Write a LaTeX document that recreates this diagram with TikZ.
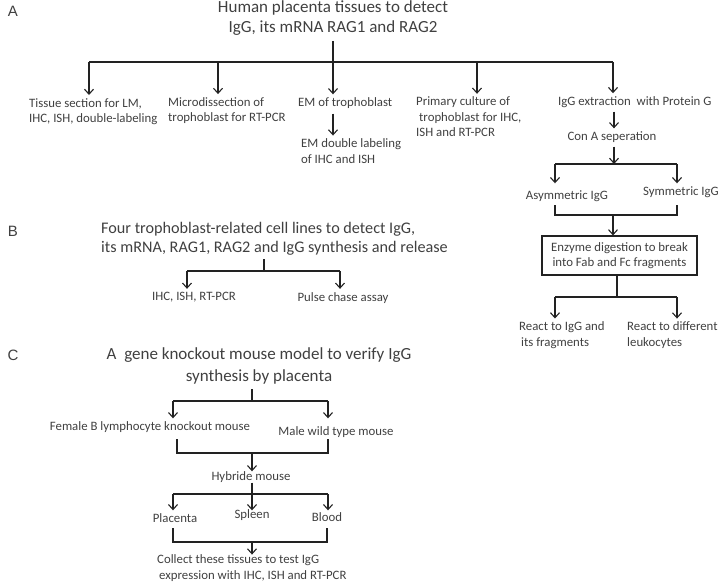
\documentclass[tikz,border=0pt]{standalone}
\usepackage{fontspec}
\setmainfont{Carlito}
\newfontfamily\labfont{Liberation Sans}
\usetikzlibrary{arrows.meta}
\definecolor{txtcol}{HTML}{404040}
\definecolor{lncol}{HTML}{222222}
\begin{document}
\begin{tikzpicture}[x=1pt,y=-1pt,
 ln/.style={draw=lncol, line width=1.1pt},
 arr/.style={ln, -{Straight Barb[length=5pt,width=9pt]}},
 arrt/.style={arr, shorten >=3pt},
 sm/.style={text=txtcol, inner sep=0pt, font=\fontsize{12.8}{15.5}\selectfont},
 lt/.style={sm, align=left, anchor=west},
 ttl/.style={text=txtcol, inner sep=0pt, font=\fontsize{17}{20.5}\selectfont, align=center},
 lab/.style={text=txtcol, inner sep=0pt, font=\labfont\fontsize{15}{18}\selectfont},
 box/.style={draw=lncol, line width=1.1pt, text=txtcol, font=\fontsize{12.8}{15.5}\selectfont, align=center, minimum width=155pt, minimum height=39pt, inner sep=2pt}
]
\useasboundingbox (0,0) rectangle (720,583);

% ---------------- A ----------------
\node[lab] (labA) at (13,11) {A};
\node[ttl] (tA) at (333,18) {Human placenta tissues to detect\\IgG, its mRNA RAG1 and RAG2};
\coordinate (hA1) at (89,62);
\coordinate (hA2) at (218,62);
\coordinate (hA3) at (333,62);
\coordinate (hA4) at (477,62);
\coordinate (hA5) at (613,62);

\node[lt] (a1) at (29,111.5) {Tissue section for LM,\\IHC, ISH, double-labeling};
\node[lt] (a2) at (168,110.5) {Microdissection of\\trophoblast for RT-PCR};
\node[lt] (a3) at (298,103) {EM of trophoblast};
\node[lt] (a3b) at (301,151) {EM double labeling\\of IHC and ISH};
\node[lt] (a4) at (416,117) {Primary culture of\\\hspace{3pt}trophoblast for IHC,\\ISH and RT-PCR};
\node[lt] (a5) at (558,102) {IgG extraction\ \ with Protein G};
\node[sm] (a6) at (612,137) {Con A seperation};

\draw[ln] (hA1) -- (hA5);
\draw[arrt, shorten <=5pt] (tA.south) -- (tA.south |- a3.north);
\draw[arrt] (hA1) -- (hA1 |- a1.north);
\draw[arrt] (hA2) -- (hA2 |- a2.north);
\draw[arrt] (hA4) -- (hA4 |- a4.north);
\draw[arrt] (hA5) -- (hA5 |- a5.north);
\draw[arrt, shorten <=5pt] (hA3 |- a3.south) -- (hA3 |- a3b.north);

\coordinate (cA) at (614,164);
\coordinate (cL) at (555,164);
\coordinate (cR) at (677,164);
\draw[arrt, shorten <=4pt] (a5.south -| cA) -- (a6.north -| cA);
\draw[arr, shorten <=4pt] (a6.south -| cA) -- (cA);
\draw[ln] (cL) -- (cR);

\node[sm] (asym) at (567,196) {Asymmetric IgG};
\node[sm] (sym) at (681,192) {Symmetric IgG};
\draw[arrt] (cL) -- (cL |- sym.north);
\draw[arrt] (cR) -- (cR |- sym.north);

\coordinate (bLt) at (555,205);
\coordinate (bRt) at (677,205);
\coordinate (bL) at (555,215);
\coordinate (bR) at (677,215);
\coordinate (bM) at (613,215);
\draw[ln] (bLt) -- (bL) -- (bR) -- (bRt);

\node[box] (enz) at (619.5,255.5) {Enzyme digestion to break\\into Fab and Fc fragments};
\draw[arr] (bM) -- (bM |- enz.north);

\coordinate (eM) at (617,297);
\coordinate (eL) at (555,297);
\coordinate (eR) at (677,297);
\draw[ln] (enz.south -| eM) -- (eM);
\draw[ln] (eL) -- (eR);
\node[lt] (r1) at (519,335) {React to IgG and\\\hspace{2pt}its fragments};
\node[lt] (r2) at (627,335) {React to different\\leukocytes};
\draw[arrt] (eL) -- (eL |- r1.north);
\draw[arrt] (eR) -- (eR |- r2.north);

% ---------------- B ----------------
\node[lab] (labB) at (13,231) {B};
\node[text=txtcol, inner sep=0pt, font=\fontsize{16.2}{19}\selectfont, align=left, anchor=west] (tB) at (101,238.5) {Four trophoblast-related cell lines to detect IgG,\\its mRNA, RAG1, RAG2 and IgG synthesis and release};
\coordinate (hB) at (264,271);
\coordinate (hBL) at (187,271);
\coordinate (hBR) at (340,271);
\draw[ln, shorten <=4pt] (tB.south -| hB) -- (hB);
\draw[ln] (hBL) -- (hBR);
\node[sm] (b1) at (194,297) {IHC, ISH, RT-PCR};
\node[sm] (b2) at (343,298) {Pulse chase assay};
\draw[arrt] (hBL) -- (hBL |- b1.north);
\draw[arrt] (hBR) -- (hBR |- b1.north);

% ---------------- C ----------------
\node[lab] (labC) at (13,355) {C};
\node[ttl, font=\fontsize{17}{22}\selectfont] (tC) at (259,366) {A\ \ gene knockout mouse model to verify IgG\\synthesis by placenta};
\coordinate (hC) at (252,401);
\coordinate (hCL) at (173,401);
\coordinate (hCR) at (328,401);
\draw[ln, shorten <=5pt] (tC.south -| hC) -- (hC);
\draw[ln] (hCL) -- (hCR);
\node[sm] (c1) at (150,427) {Female B lymphocyte knockout mouse};
\node[sm] (c2) at (336,432) {Male wild type mouse};
\draw[arrt] (hCL) -- (hCL |- c1.north);
\draw[arrt] (hCR) -- (hCR |- c1.north);

\coordinate (gLt) at (177,439);
\coordinate (gRt) at (328,439);
\coordinate (gL) at (177,453);
\coordinate (gR) at (328,453);
\coordinate (gM) at (252,453);
\draw[ln] (gLt) -- (gL) -- (gR) -- (gRt);

\node[sm] (c3) at (251,477) {Hybride mouse};
\draw[arr] (gM) -- (gM |- c3.north);

\coordinate (kM) at (252,494);
\coordinate (kL) at (173,494);
\coordinate (kR) at (328,494);
\draw[ln] (c3.south -| kM) -- (kM);
\draw[ln] (kL) -- (kR);
\node[sm] (c4) at (175,518) {Placenta};
\node[sm] (c5) at (252,515) {Spleen};
\node[sm] (c6) at (327,517) {Blood};
\draw[arrt] (kL) -- (kL |- c4.north);
\draw[arrt] (kM) -- (kM |- c4.north);
\draw[arrt] (kR) -- (kR |- c4.north);

\coordinate (mLt) at (173,528);
\coordinate (mRt) at (327,528);
\coordinate (mL) at (173,542);
\coordinate (mR) at (327,542);
\coordinate (mM) at (252,542);
\draw[ln] (mLt) -- (mL) -- (mR) -- (mRt);
\node[lt] (c7) at (157,568) {Collect these tissues to test IgG\\\hspace{2pt}expression with IHC, ISH and RT-PCR};
\draw[arr] (mM) -- (mM |- c7.north);
\end{tikzpicture}
\end{document}
